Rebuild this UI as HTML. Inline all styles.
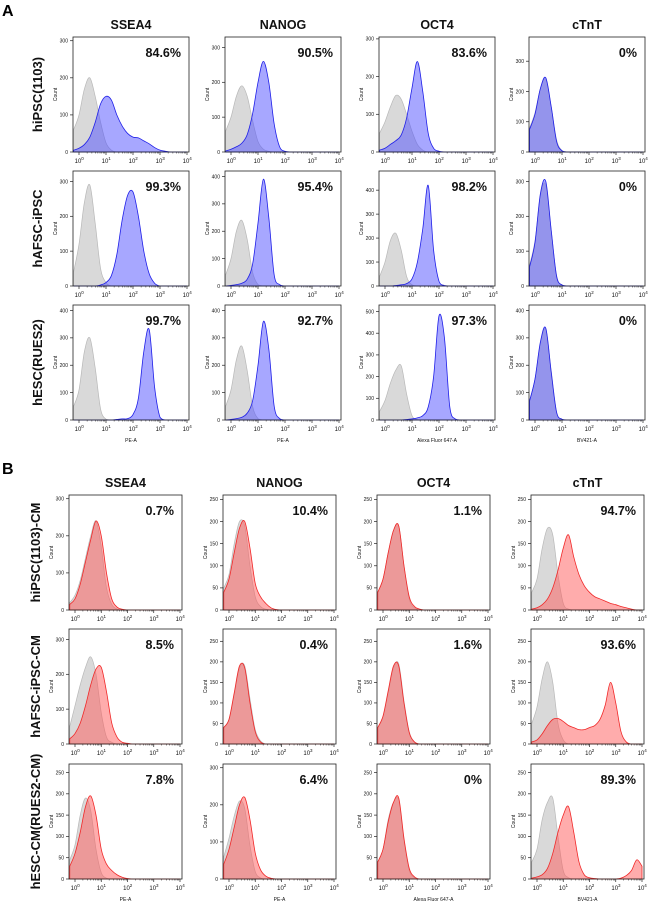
<!DOCTYPE html>
<html><head><meta charset="utf-8">
<style>
html,body{margin:0;padding:0;background:#fff;}
svg{display:block;font-family:"Liberation Sans",Arial,sans-serif;}
</style></head>
<body>
<svg id="fig" width="649" height="904" viewBox="0 0 649 904"></svg>
<script>
// log10 bin centres (decades)
const binCenters=[-0.2,0,0.2,0.4,0.6,0.8,1.0,1.2,1.4,1.6,1.8,2.0,2.2,2.4,2.6,2.8,3.0,3.2,3.4,3.6,3.8,4.0];
const markers=["SSEA4","NANOG","OCT4","cTnT"];
const rowsA=["hiPSC(1103)","hAFSC-iPSC","hESC(RUES2)"];
const rowsB=["hiPSC(1103)-CM","hAFSC-iPSC-CM","hESC-CM(RUES2-CM)"];
const pctA=["84.6%","90.5%","83.6%","0%","99.3%","95.4%","98.2%","0%","99.7%","92.7%","97.3%","0%"];
const pctB=["0.7%","10.4%","1.1%","94.7%","8.5%","0.4%","1.6%","93.6%","7.8%","6.4%","0%","89.3%"];
const yMaxA=[310,330,305,380, 330,420,480,330, 420,420,530,420];
const yStepA=[100,100,100,100, 100,100,100,100, 100,100,100,100];
const yMaxB=[310,260,260,260, 330,280,280,280, 270,310,270,270];
const yStepB=[100,50,50,50, 100,50,50,50, 50,100,50,50];
const xAxisTitles=["PE-A","PE-A","Alexa Fluor 647-A","BV421-A"];
// control (grey) histograms, section A
const ctrlA=[
[60,100,170,200,150,80,25,5],
[60,100,160,190,160,90,30,8,2],
[50,80,120,150,140,100,55,20,5],
[80,130,210,240,150,40,5],
[40,120,240,290,180,50,10],
[40,100,200,240,170,50,5],
[40,100,190,220,150,40,5],
[60,130,260,290,160,30,3],
[50,110,250,300,190,40,3],
[50,110,220,270,180,50,5],
[40,90,170,230,250,120,20,2],
[70,150,280,330,180,30,3]];
// stained (blue) histograms, section A
const stainA=[
[5,10,20,40,80,130,150,140,100,70,50,40,38,30,22,12,5,2],
[3,8,15,25,50,110,200,260,200,80,15,2],
[5,10,20,30,45,90,170,240,160,50,10,2],
[75,125,210,245,150,35,4],
[0,0,0,0,0,3,10,30,90,190,260,270,200,100,35,8],
[0,2,5,10,25,80,230,390,250,40,5],
[0,0,0,2,5,10,30,100,240,420,150,20,2],
[55,125,265,300,160,28,3],
[0,0,0,0,0,0,0,0,2,4,5,20,80,250,330,120,10],
[0,2,5,10,25,70,200,360,260,50,5],
[0,0,0,0,0,2,5,10,20,60,200,480,380,60,5],
[70,150,285,335,175,28,3]];
// control (grey) histograms, section B
const ctrlB=[
[20,40,80,140,200,240,170,60,15,3],
[50,80,150,200,190,100,30,8,2],
[40,70,130,180,190,100,25,5],
[40,70,140,185,170,80,15,2],
[50,110,170,220,250,200,90,20,5],
[40,60,120,185,190,110,35,8],
[40,65,125,185,195,105,30,5],
[50,90,160,200,150,50,10],
[45,80,150,190,160,70,15,2],
[60,110,170,210,190,90,20,3],
[40,70,140,180,185,90,20,3],
[40,70,140,180,190,100,20,3]];
// stained (red) histograms, section B
const stainB=[
[15,30,70,130,190,240,200,100,30,8,2],
[40,70,130,185,200,140,60,30,15,5,1],
[40,70,130,180,190,100,30,8,2],
[2,5,12,25,50,90,140,170,120,80,55,40,30,25,20,15,12,8,5,2],
[15,30,60,110,170,215,220,150,60,20,5,2],
[40,60,125,190,185,100,30,5],
[40,68,130,190,190,100,28,5],
[5,10,25,45,60,62,55,45,40,35,35,40,45,60,95,150,100,30,5],
[30,60,110,170,195,150,70,35,20,10,4,1],
[40,80,140,200,220,160,70,25,8,2],
[40,70,135,180,190,95,25,5],
[2,5,10,25,60,110,150,170,110,40,10,3,1,0,0,0,0,2,8,20,45,30]];
</script>
<script>
const svg=document.getElementById('fig');
const NS='http://www.w3.org/2000/svg';
function mk(tag,attrs,parent){const e=document.createElementNS(NS,tag);for(const k in attrs)e.setAttribute(k,attrs[k]);(parent||svg).appendChild(e);return e;}
function txt(s,attrs,parent){const e=mk('text',attrs,parent);e.textContent=s;return e;}

function pad(a){const r=a.slice();while(r.length<binCenters.length)r.push(0);return r;}

function curvePath(vals,xs,ys,base){
  const v=pad(vals);
  const pts=binCenters.map((c,i)=>[xs(c),ys(v[i])]);
  let d='M'+pts[0][0]+','+base+' L'+pts[0][0]+','+pts[0][1];
  for(let i=0;i<pts.length-1;i++){
    const p0=pts[Math.max(i-1,0)],p1=pts[i],p2=pts[i+1],p3=pts[Math.min(i+2,pts.length-1)];
    let c1y=p1[1]+(p2[1]-p0[1])/6, c2y=p2[1]-(p3[1]-p1[1])/6;
    c1y=Math.min(c1y,base);c2y=Math.min(c2y,base);
    d+=' C'+(p1[0]+(p2[0]-p0[0])/6)+','+c1y+' '+(p2[0]-(p3[0]-p1[0])/6)+','+c2y+' '+p2[0]+','+p2[1];
  }
  d+=' L'+pts[pts.length-1][0]+','+base+' Z';
  return d;
}

function panel(section,idx,left,top,w,h,ctrl,stain,yMax,yStep,pct,xTitle){
  const g=mk('g',{});
  
  
  const dec=(w-8)/4;
  const xs=v=>left+6+v*dec;
  const ys=v=>top+h-(v/yMax)*h;
  const base=top+h;
  const isA=section==='a';
  const cp=mk('path',{d:curvePath(ctrl,xs,ys,base),fill:'#d9d9d9',stroke:'#b8b8b8','stroke-width':0.7},g);
  
  
  const sp=mk('path',{d:curvePath(stain,xs,ys,base),fill:isA?'rgba(80,80,255,0.5)':'rgba(255,90,90,0.5)',stroke:isA?'#1f1fe8':'#f02828','stroke-width':0.8},g);
  
  
  const box=mk('rect',{x:left,y:top,width:w,height:h,fill:'none',stroke:'#222','stroke-width':0.8},g);
  
  
  for(let v=0;v<=yMax;v+=yStep){
    const y=ys(v);
    mk('line',{x1:left-3,x2:left,y1:y,y2:y,stroke:'#222','stroke-width':0.7},g);
    const t=txt(String(v),{x:left-5,y:y+1.8,'font-size':5,'text-anchor':'end',fill:'#111'},g);
    
    
  }
  const yl=txt('Count',{x:0,y:0,'font-size':5,'text-anchor':'middle',fill:'#111',transform:'translate('+(left-16)+','+(top+h/2)+') rotate(-90)'},g);
  
  
  for(let d=0;d<=4;d++){
    const x=xs(d);
    mk('line',{x1:x,x2:x,y1:base,y2:base+3,stroke:'#222','stroke-width':0.7},g);
    if(d<4)for(let m=2;m<10;m++){const xm=xs(d+Math.log10(m));mk('line',{x1:xm,x2:xm,y1:base,y2:base+1.5,stroke:'#222','stroke-width':0.5},g);}
    const t=txt('10',{x:x-1,y:base+11,'font-size':6,'text-anchor':'middle',fill:'#111'},g);
    
    
    const s=txt(String(d),{x:x+3.5,y:base+8,'font-size':4.5,'text-anchor':'middle',fill:'#111'},g);
    
    
  }
  if(xTitle){
    const xt=txt(xTitle,{x:left+w/2,y:base+22,'font-size':5,'text-anchor':'middle',fill:'#111'},g);
    
    
  }
  const p=txt(pct,{x:left+w-8,y:top+20,'font-size':12.5,'font-weight':'bold','text-anchor':'end',fill:'#111'},g);
  
  
}

function section(key,letterY,titleY,lefts,w,tops,h,rowLabelX,rows,ctrl,stain,yMax,yStep,pct){
  const L=txt(key.toUpperCase(),{x:2,y:letterY,'font-size':16,'font-weight':'bold',fill:'#000'});
  
  
  markers.forEach((m,c)=>{
    const t=txt(m,{x:lefts[c]+w/2,y:titleY,'font-size':12.5,'font-weight':'bold','text-anchor':'middle',fill:'#111'});
    
    
  });
  rows.forEach((r,ri)=>{
    const cy=tops[ri]+h/2;
    const t=txt(r,{x:0,y:0,'font-size':13,'font-weight':'bold','text-anchor':'middle',fill:'#111',transform:'translate('+rowLabelX+','+cy+') rotate(-90)'});
    
    
    for(let c=0;c<4;c++){
      const i=ri*4+c;
      panel(key,i,lefts[c],tops[ri],w,h,ctrl[i],stain[i],yMax[i],yStep[i],pct[i],ri===2?xAxisTitles[c]:null);
    }
  });
}

section('a',16,29,[73,225,379,529],116,[37,171,305],115,42,rowsA,ctrlA,stainA,yMaxA,yStepA,pctA);
section('b',474,487,[69,223,377,531],113,[495,629,764],115,40,rowsB,ctrlB,stainB,yMaxB,yStepB,pctB);
</script>
</body></html>
